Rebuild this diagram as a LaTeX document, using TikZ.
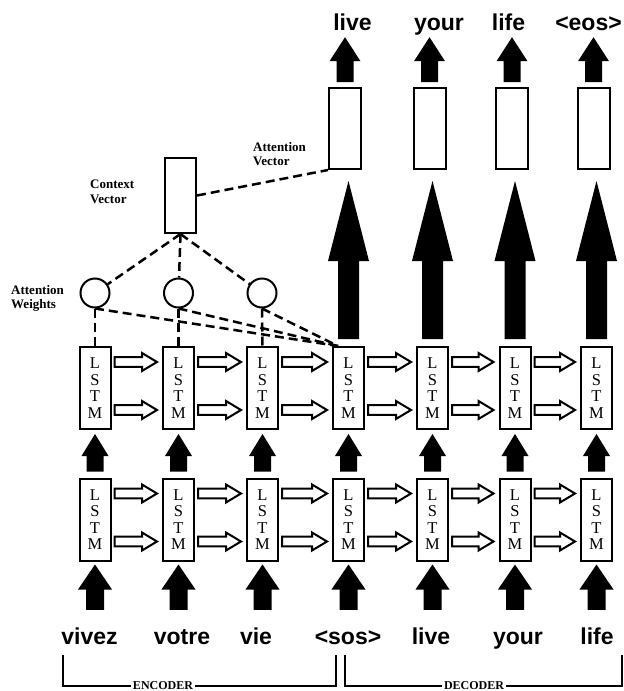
\documentclass[tikz,border=0pt]{standalone}
\usepackage{fontspec}
\setmainfont{Liberation Serif}
\newfontfamily\wordfont{Liberation Sans}
\usetikzlibrary{calc}
\begin{document}
\begin{tikzpicture}[x=1pt,y=-1pt,
  lstm/.style={draw, line width=2pt, fill=white, minimum width=31pt, minimum height=82pt,
    inner sep=0pt, align=center, font=\fontsize{16.5}{16.5}\selectfont},
  outbox/.style={draw, line width=2pt, minimum width=32pt, minimum height=81pt, inner sep=0pt},
  ctxbox/.style={draw, line width=2pt, minimum width=31pt, minimum height=75pt, inner sep=0pt},
  word/.style={font=\wordfont\bfseries\fontsize{23}{23}\selectfont, inner sep=0pt,
    text height=17pt, text depth=5pt, anchor=base},
  att/.style={draw, circle, line width=2pt, minimum size=29pt, inner sep=0pt},
  dsh/.style={line width=2.5pt, dash pattern=on 9pt off 5pt},
  lbl/.style={font=\bfseries\fontsize{13}{14.5}\selectfont, align=left, inner sep=0pt, anchor=north west},
  brk/.style={line width=2pt},
  enclbl/.style={font=\bfseries\fontsize{12}{12}\selectfont, inner sep=2pt, anchor=base},
  blockup/.style n args={5}{to path={let \p1=(\tikztostart), \p2=(\tikztotarget) in
    (\x1-#1,\y1+#4) -- (\x1-#1,\y2-#5-#3) -- (\x1-#2,\y2-#5-#3) -- (\x1,\y2-#5)
    -- (\x1+#2,\y2-#5-#3) -- (\x1+#1,\y2-#5-#3) -- (\x1+#1,\y1+#4) -- cycle}},
  midarr/.style={blockup={8.5pt}{13.5pt}{22pt}{6pt}{4pt}},
  botarr/.style={blockup={9pt}{17pt}{25pt}{17pt}{3pt}},
  bigarr/.style={blockup={10.5pt}{20.5pt}{80pt}{7pt}{11pt}},
  toparr/.style={blockup={8.5pt}{15.5pt}{24pt}{5pt}{2pt}},
  hollow/.style={line width=2pt, fill=white, line join=miter,
    to path={let \p1=(\tikztostart), \p2=(\tikztotarget) in
    (\x1+3pt,\y1+#1+4.8pt) -- (\x2-20pt,\y1+#1+4.8pt) -- (\x2-20pt,\y1+#1+9pt)
    -- (\x2-5pt,\y1+#1) -- (\x2-20pt,\y1+#1-9pt) -- (\x2-20pt,\y1+#1-4.8pt)
    -- (\x1+3pt,\y1+#1-4.8pt) -- cycle}}
]
\useasboundingbox (0,0) rectangle (624,691);

% LSTM cells
\foreach \i/\cx in {1/95,2/178.5,3/262.5,4/348.5,5/432.5,6/515,7/596.5}{
  \node[lstm] (u\i) at (\cx,388) {L\\S\\T\\M};
  \node[lstm] (l\i) at (\cx,519.5) {L\\S\\T\\M};
}

% output boxes and words
\foreach \i/\cx in {1/345,2/429.5,3/512,4/593.5}{
  \node[outbox] (o\i) at (\cx,128.5) {};
}
\node[word] (t1) at (352.5,30) {live};
\node[word] (t2) at (439,30) {your};
\node[word] (t3) at (508.5,30) {life};
\node[word] (t4) at (588.5,30) {<eos>};

% input words
\node[word] (b1) at (89.5,644) {vivez};
\node[word] (b2) at (182,644) {votre};
\node[word] (b3) at (256,644) {vie};
\node[word] (b4) at (348,644) {<sos>};
\node[word] (b5) at (431,644) {live};
\node[word] (b6) at (518,644) {your};
\node[word] (b7) at (597,644) {life};

% attention part
\node[ctxbox] (ctx) at (180.5,195.5) {};
\node[att] (c1) at (95,293) {};
\node[att] (c2) at (178.5,293) {};
\node[att] (c3) at (262,293) {};
\coordinate (conv) at (338,346);

\node[lbl] (lctx) at (90,180) {Context\\Vector};
\node[lbl] (latv) at (253,142) {Attention\\Vector};
\node[lbl] (latw) at (11,285) {Attention\\Weights};

% dashed connections
\draw[dsh] (ctx.south) -- (c1);
\draw[dsh] (ctx.south) -- (c2);
\draw[dsh] (ctx.south) -- (c3);
\draw[dsh] (c1.south) -- (u1.north);
\draw[dsh] (c2.south) -- (u2.north);
\draw[dsh] (c3.south) -- (u3.north);
\draw[dsh] (c1.south) -- (conv);
\draw[dsh] (c2.south) -- (conv);
\draw[dsh] (c3.south) -- (conv);
\draw[dsh] (ctx.east) -- (o1.south west);

% vertical block arrows
\foreach \i in {1,...,7}{
  \fill[midarr] (l\i.north) to (u\i.south);
  \fill[botarr] (b\i.north -| l\i) to (l\i.south);
}
\fill[bigarr] (u4.north) to (o1.south);
\fill[bigarr] (u5.north) to (o2.south);
\fill[bigarr] (u6.north) to (o3.south);
\fill[bigarr] (u7.north) to (o4.south);
\foreach \i in {1,...,4}{
  \fill[toparr] (o\i.north) to (t\i.south);
}

% hollow horizontal arrows
\foreach \i [evaluate=\i as \j using int(\i+1)] in {1,...,6}{
  \draw[hollow=26pt] (u\i.east) to (u\j.west);
  \draw[hollow=-22pt] (u\i.east) to (u\j.west);
  \draw[hollow=26pt] (l\i.east) to (l\j.west);
  \draw[hollow=-22pt] (l\i.east) to (l\j.west);
}

% encoder / decoder brackets
\node[enclbl] (enc) at (163,689.5) {ENCODER};
\node[enclbl] (dec) at (474,689.5) {DECODER};
\coordinate (e1) at (63,655);
\coordinate (e2) at (336,655);
\coordinate (d1) at (345,655);
\coordinate (d2) at (622,655);
\draw[brk] (e1) |- (enc.west);
\draw[brk] (enc.east) -| (e2);
\draw[brk] (d1) |- (dec.west);
\draw[brk] (dec.east) -| (d2);
\end{tikzpicture}
\end{document}
